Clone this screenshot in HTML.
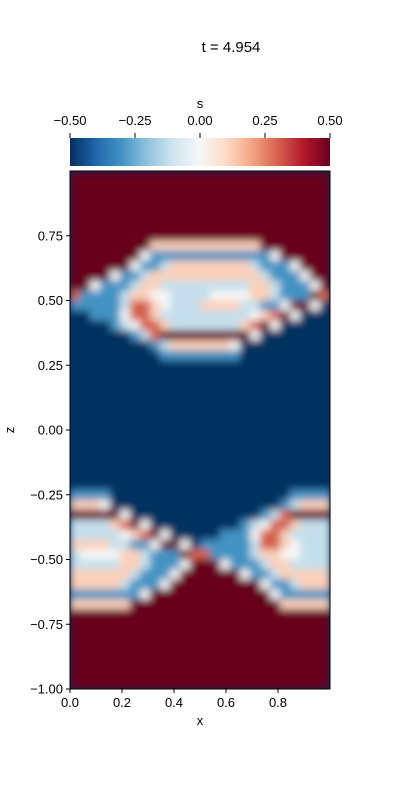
<!DOCTYPE html>
<html><head><meta charset="utf-8"><style>
html,body{margin:0;padding:0;background:#fff;}
svg{display:block;font-family:"Liberation Sans","DejaVu Sans",sans-serif;}
</style></head><body>
<svg id="fig" width="400" height="800" viewBox="0 0 400 800">
<defs>
<linearGradient id="cbg" x1="0" x2="1" y1="0" y2="0">
<stop offset="0" stop-color="#053061"/><stop offset="0.1" stop-color="#2166ac"/><stop offset="0.2" stop-color="#4393c3"/><stop offset="0.3" stop-color="#92c5de"/><stop offset="0.4" stop-color="#d1e5f0"/><stop offset="0.5" stop-color="#f7f7f7"/><stop offset="0.6" stop-color="#fddbc7"/><stop offset="0.7" stop-color="#f4a582"/><stop offset="0.8" stop-color="#d6604d"/><stop offset="0.9" stop-color="#b2182b"/><stop offset="1" stop-color="#67001f"/>
</linearGradient>
<filter id="soft" filterUnits="userSpaceOnUse" x="70" y="171" width="260" height="518">
<feGaussianBlur stdDeviation="4" edgeMode="duplicate"/>
</filter>
<clipPath id="plotclip"><rect x="70" y="171" width="260" height="518"/></clipPath>
</defs>
<text x="231" y="52" font-size="15" text-anchor="middle">t = 4.954</text>
<g id="cbar">
<rect x="70" y="138" width="260" height="28" fill="url(#cbg)"/>
<text x="200" y="108" font-size="13" text-anchor="middle">s</text>
</g>
<rect x="70" y="171" width="260" height="518" fill="#053061"/>
<g clip-path="url(#plotclip)"><g id="heat" filter="url(#soft)"></g></g>
<rect x="70" y="171" width="260" height="518" fill="none" stroke="#000" stroke-width="1"/>
<g id="axes"></g>
<text x="200" y="725" font-size="13" text-anchor="middle">x</text>
<text x="14" y="430" font-size="13" text-anchor="middle" transform="rotate(-90 14 430)">z</text>
</svg>
<script>
const valueKey = {R:0.5, r:0.3, p:0.12, w:0.0, c:-0.12, b:-0.3, B:-0.5};
const rowsTop = [
"RRRRRRRRRRRRRRRRRRRRRRRRRR","RRRRRRRRRRRRRRRRRRRRRRRRRR","RRRRRRRRRRRRRRRRRRRRRRRRRR",
"RRRRRRRRRRRRRRRRRRRRRRRRRR","RRRRRRRRRRRRRRRRRRRRRRRRRR","RRRRRRRRRRRRRRRRRRRRRRRRRR",
"RRRRRRRRRRRRRRRRRRRRRRRRRR",
"RRRRRRRRpppppppppppRRRRRRR",
"RRRRRRRwbbbbbbbbbbbbwRRRRR",
"RRRRRRwbbcppppppppcbbbwRRR",
"RRRRwbbcpppppppppppcbbbwRR",
"RRwbbbcppcccccccccppcbbbwR",
"rbbbbcppwwccccwwwwppcbbbRr",
"bbbbbcrrpwcccppppccbbwRRwB",
"BBbbbwrrpcccccccccwprRwBBB",
"BBBBbcwrrpcccccccprRwBBBBB",
"BBBBBBbcrRRRRRRRRRwBBBBBBB",
"BBBBBBBBbcppppppwBBBBBBBBB",
"BBBBBBBBBbbbbbbbbBBBBBBBBB"
];
const rowsMid = [
"BBBBBBBBBBBBBBBBBBBBBBBBBB","BBBBBBBBBBBBBBBBBBBBBBBBBB","BBBBBBBBBBBBBBBBBBBBBBBBBB",
"BBBBBBBBBBBBBBBBBBBBBBBBBB","BBBBBBBBBBBBBBBBBBBBBBBBBB","BBBBBBBBBBBBBBBBBBBBBBBBBB",
"BBBBBBBBBBBBBBBBBBBBBBBBBB","BBBBBBBBBBBBBBBBBBBBBBBBBB","BBBBBBBBBBBBBBBBBBBBBBBBBB",
"BBBBBBBBBBBBBBBBBBBBBBBBBB","BBBBBBBBBBBBBBBBBBBBBBBBBB","BBBBBBBBBBBBBBBBBBBBBBBBBB",
"BBBBBBBBBBBBBBBBBBBBBBBBBB"
];
const rowsBottom = [
"bbbbBBBBBBBBBBBBBBBBBBbbbb",
"pppwBBBBBBBBBBBBBBBBBbcppp",
"RRRRRwBBBBBBBBBBBBBbcrRRRR",
"ccccprRwBBBBBBBBBbcwrrpccc",
"cccccwprRwBBBBBbbbwrrpcccc",
"ppppccbbwRRwBbbbbbcrrpwccc",
"cwwwwppcbbbRrrbbbbcppwwccc",
"cccccppcbbbwRRRwbbbcppcccc",
"ppppppcbbbwRRRRRRwbbcppppp",
"pppppcbbbwRRRRRRRRRwbbcppp",
"bbbbbbbwRRRRRRRRRRRRwbbbbb",
"ppppppRRRRRRRRRRRRRRRppppp",
"RRRRRRRRRRRRRRRRRRRRRRRRRR","RRRRRRRRRRRRRRRRRRRRRRRRRR","RRRRRRRRRRRRRRRRRRRRRRRRRR",
"RRRRRRRRRRRRRRRRRRRRRRRRRR","RRRRRRRRRRRRRRRRRRRRRRRRRR","RRRRRRRRRRRRRRRRRRRRRRRRRR",
"RRRRRRRRRRRRRRRRRRRRRRRRRR","RRRRRRRRRRRRRRRRRRRRRRRRRR"
];
const xTicks = [0.0, 0.2, 0.4, 0.6, 0.8];
const xTickLabels = ["0.0","0.2","0.4","0.6","0.8"];
const zTicks = [-1.0,-0.75,-0.5,-0.25,0.0,0.25,0.5,0.75];
const zTickLabels = ["\u22121.00","\u22120.75","\u22120.50","\u22120.25","0.00","0.25","0.50","0.75"];
const cbTicks = [-0.5,-0.25,0,0.25,0.5];
const cbTickLabels = ["\u22120.50","\u22120.25","0.00","0.25","0.50"];

const NS="http://www.w3.org/2000/svg";
const X0=70, X1=330, Y0=171, Y1=689;
const xScale = v => X0 + v*(X1-X0);
const zScale = z => Y1 - (z+1)*(Y1-Y0)/2;
const cbScale = v => 70 + (v+0.5)*260;
const stops=[[0,[5,48,97]],[0.1,[33,102,172]],[0.2,[67,147,195]],[0.3,[146,197,222]],[0.4,[209,229,240]],[0.5,[247,247,247]],[0.6,[253,219,199]],[0.7,[244,165,130]],[0.8,[214,96,77]],[0.9,[178,24,43]],[1,[103,0,31]]];
function cmap(v){let t=Math.max(0,Math.min(1,v+0.5));
 for(let i=1;i<stops.length;i++){if(t<=stops[i][0]){const a=stops[i-1],b=stops[i],f=(t-a[0])/(b[0]-a[0]);
 return "rgb("+a[1].map((c,k)=>Math.round(c+(b[1][k]-c)*f)).join(",")+")";}}return "rgb(103,0,31)";}

const rows = rowsTop.concat(rowsMid, rowsBottom);
const heat=document.getElementById('heat');
const nr=rows.length, nc=rows[0].length;
for(let i=0;i<nr;i++){for(let j=0;j<nc;j++){
 const v=valueKey[rows[i][j]];
 const r=document.createElementNS(NS,'rect');
 const xa=xScale(j/nc), xb=xScale((j+1)/nc);
 const za=1-2*i/nr, zb=1-2*(i+1)/nr;
 r.setAttribute('x',xa);r.setAttribute('y',zScale(za));
 r.setAttribute('width',xb-xa+0.5);r.setAttribute('height',zScale(zb)-zScale(za)+0.5);
 r.setAttribute('fill',cmap(v));
 
 
 heat.appendChild(r);}}

const axes=document.getElementById('axes');
function line(x1,y1,x2,y2,name){const l=document.createElementNS(NS,'line');
 l.setAttribute('x1',x1);l.setAttribute('y1',y1);l.setAttribute('x2',x2);l.setAttribute('y2',y2);
 l.setAttribute('stroke','#000');l.setAttribute('stroke-width','1');
 
 
 axes.appendChild(l);}
function text(x,y,s,anchor,name){const t=document.createElementNS(NS,'text');
 t.setAttribute('x',x);t.setAttribute('y',y);t.setAttribute('font-size','13');t.setAttribute('text-anchor',anchor);
 t.textContent=s;
 
 
 axes.appendChild(t);}
xTicks.forEach((v,i)=>{const x=xScale(v);line(x,689,x,693,'x-tick');text(x,707,xTickLabels[i],'middle','x-tick-label');});
zTicks.forEach((v,i)=>{const y=zScale(v);line(66,y,70,y,'y-tick');text(63,y+4.5,zTickLabels[i],'end','y-tick-label');});
cbTicks.forEach((v,i)=>{const x=cbScale(v);line(x,133,x,138,'colorbar-tick');text(x,125,cbTickLabels[i],'middle','colorbar-tick-label');});
</script>
</body></html>
